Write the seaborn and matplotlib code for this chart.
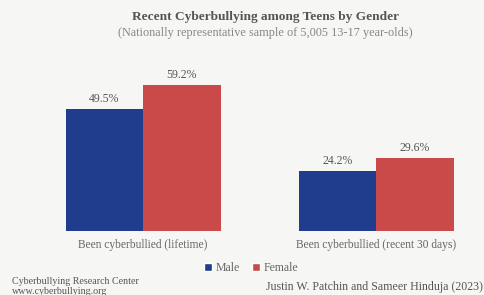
import matplotlib
matplotlib.use("Agg")
import matplotlib.pyplot as plt
import seaborn as sns
import pandas as pd
from matplotlib.patches import Patch

categories = ["Been cyberbullied (lifetime)", "Been cyberbullied (recent 30 days)"]
genders = ["Male", "Female"]
male_values = [49.5, 24.2]
female_values = [59.2, 29.6]
colors = {"Male": "#1f3d8c", "Female": "#c94a48"}

df = pd.DataFrame({
    "category": categories * 2,
    "gender": ["Male"] * 2 + ["Female"] * 2,
    "value": male_values + female_values,
})

sns.set_theme(style="white")
plt.rcParams["font.family"] = ["Liberation Serif", "DejaVu Serif"]

bg = "#f6f6f5"
fig = plt.figure(figsize=(4.84, 2.95), dpi=100, facecolor=bg)
ax = fig.add_axes([0, 64 / 295, 1, 171 / 295])
ax.set_facecolor(bg)

sns.barplot(data=df, x="category", y="value", hue="gender", hue_order=genders,
            palette=colors, width=0.665, saturation=1, legend=False,
            linewidth=0, ax=ax)

for container in ax.containers:
    ax.bar_label(container, labels=[f"{v:.1f}%" for v in container.datavalues],
                 padding=3, fontsize=8.5, color="#555555")

ax.set_xlim(-0.614, 1.463)
ax.set_ylim(0, 69.5)
ax.set_xlabel("")
ax.set_ylabel("")
ax.set_yticks([])
ax.tick_params(axis="x", length=0, pad=6, labelsize=8.3, labelcolor="#666666")
for s in ax.spines.values():
    s.set_visible(False)

fig.text(265 / 484, 1 - 17 / 295, "Recent Cyberbullying among Teens by Gender", ha="center",
         va="center", fontsize=9.6, fontweight="bold", color="#555555")
fig.text(265 / 484, 1 - 33 / 295, "(Nationally representative sample of 5,005 13-17 year-olds)",
         ha="center", va="center", fontsize=8.8, color="#888888")

handles = [Patch(facecolor=colors[g], label=g) for g in genders]
fig.legend(handles=handles, loc="center", bbox_to_anchor=(251 / 484, 1 - 268 / 295), ncol=2,
           frameon=False, fontsize=8.5, handlelength=0.7, handleheight=0.7,
           handletextpad=0.3, columnspacing=1.0, labelcolor="#666666")

fig.text(12 / 484, 1 - 281 / 295, "Cyberbullying Research Center", ha="left", va="center",
         fontsize=7.2, color="#555555")
fig.text(12 / 484, 1 - 292 / 295, "www.cyberbullying.org", ha="left", va="center",
         fontsize=7.2, color="#555555")
fig.text(483 / 484, 1 - 287 / 295, "Justin W. Patchin and Sameer Hinduja (2023)", ha="right",
         va="center", fontsize=8.6, color="#555555")

fig.savefig("out.png", dpi=100, facecolor=bg)
